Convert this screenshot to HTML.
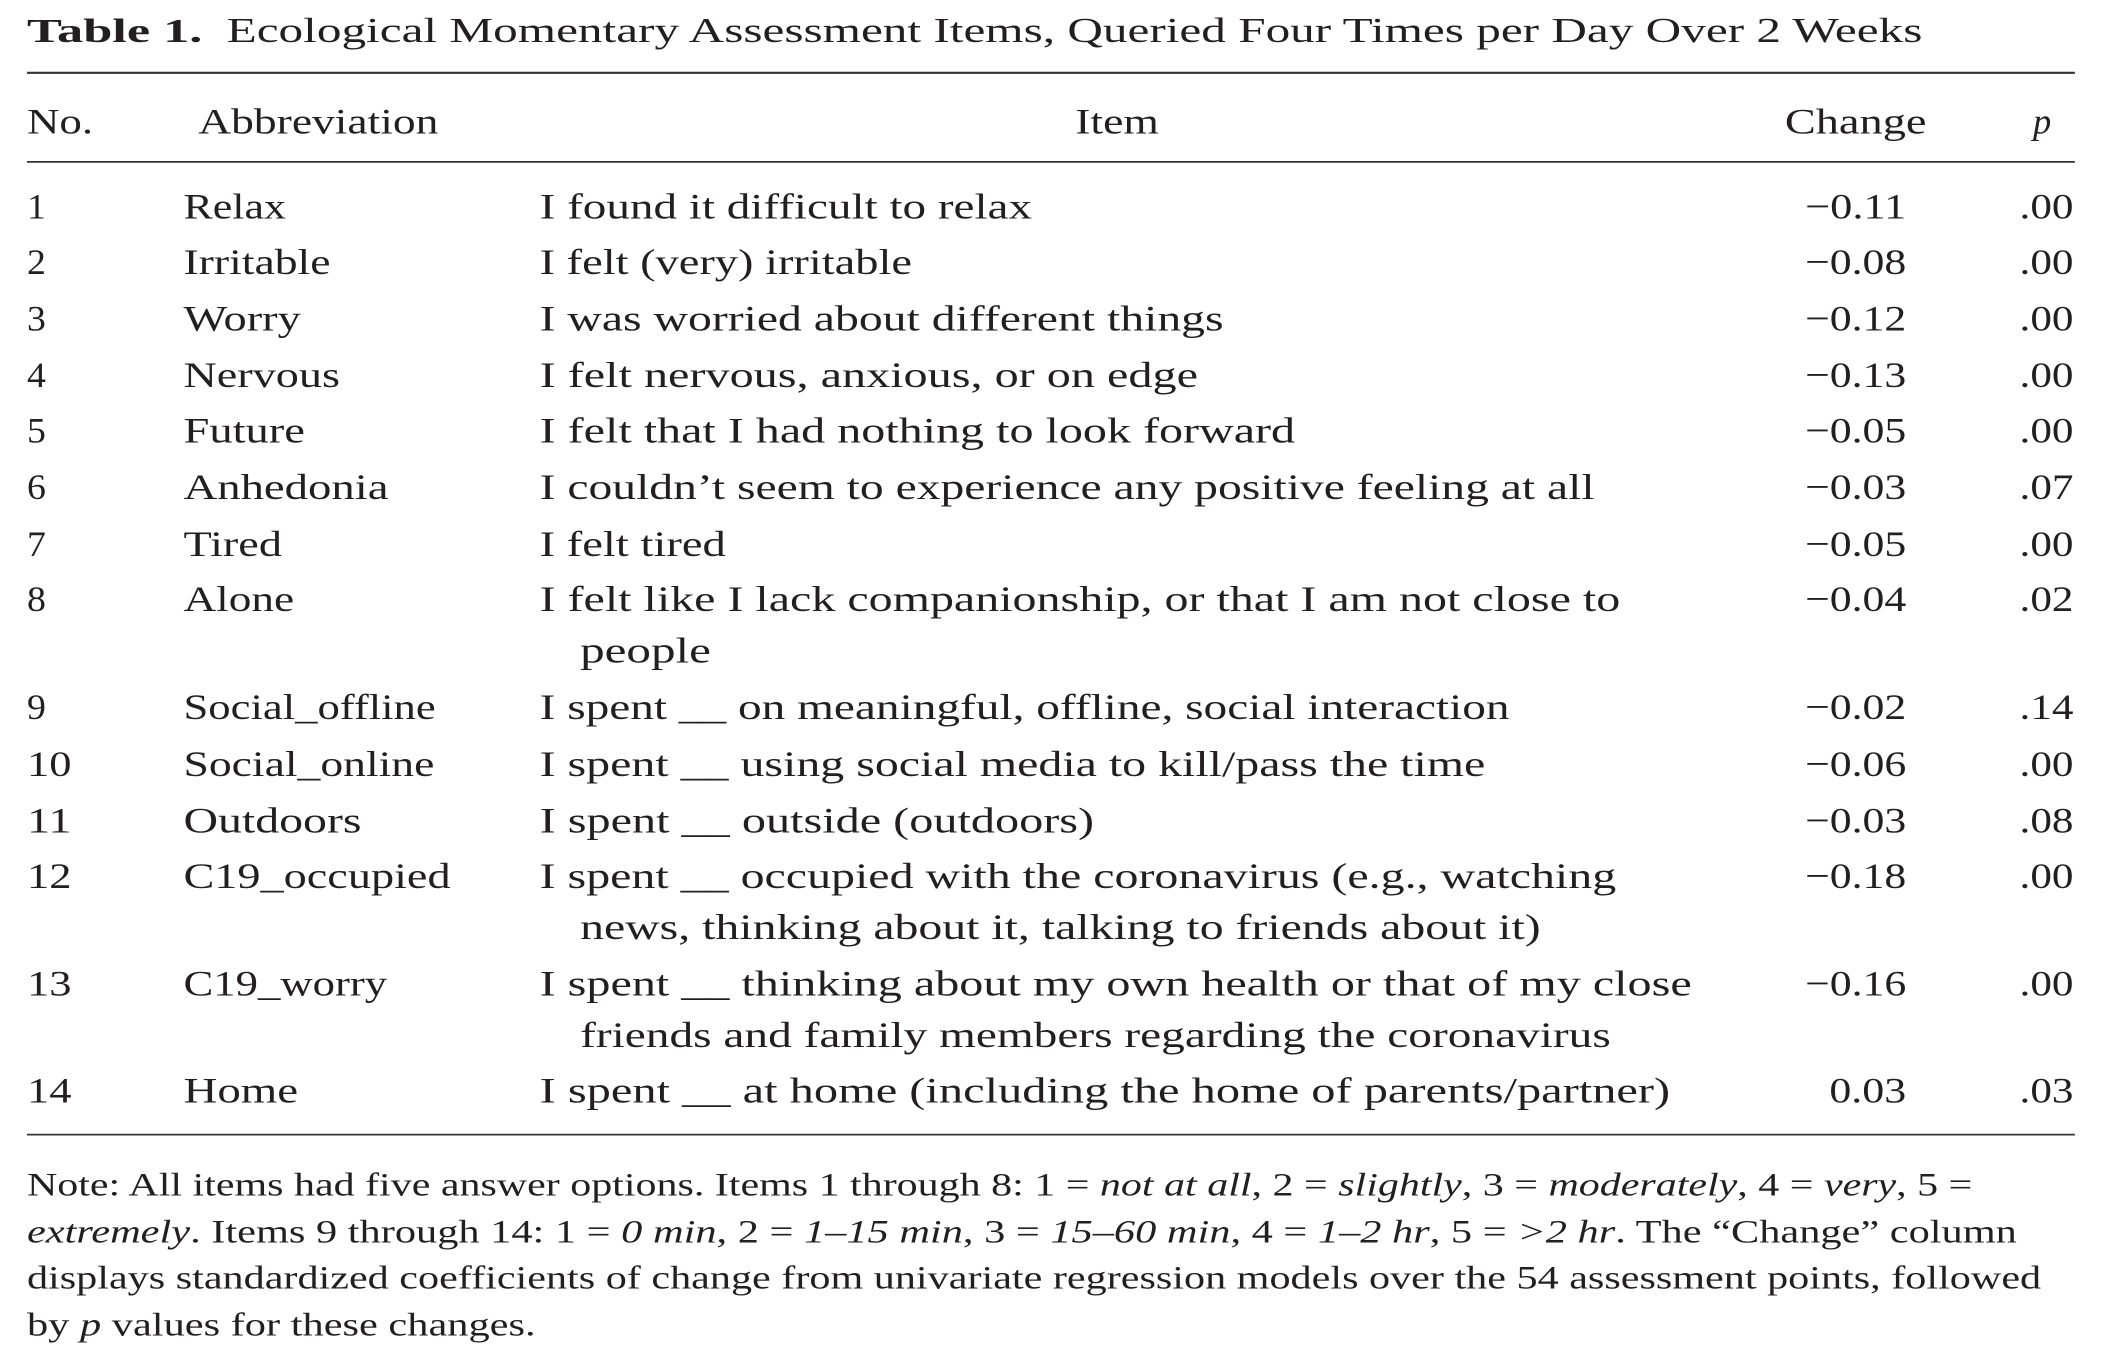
<!DOCTYPE html>
<html><head><meta charset="utf-8"><style>
html,body{margin:0;padding:0;background:#fff;}
svg{display:block;}
text{font-family:"Liberation Serif",serif;fill:#231f20;}
</style></head><body>
<svg width="2114" height="1360" viewBox="0 0 1567 1008" preserveAspectRatio="none">
<g>
<text x="20" y="31" font-size="25" font-weight="bold" textLength="130" lengthAdjust="spacingAndGlyphs">Table 1.</text>
<text x="168" y="31" font-size="26" textLength="1257" lengthAdjust="spacingAndGlyphs">Ecological Momentary Assessment Items, Queried Four Times per Day Over 2 Weeks</text>
</g>
<line x1="20" y1="54" x2="1538" y2="54" stroke="#333" stroke-width="1.6"/>
<g font-size="27">
<text x="20" y="99" font-size="27" textLength="49" lengthAdjust="spacingAndGlyphs">No.</text>
<text x="147" y="99" font-size="27" textLength="178" lengthAdjust="spacingAndGlyphs">Abbreviation</text>
<text x="797" y="99" font-size="27" textLength="62" lengthAdjust="spacingAndGlyphs">Item</text>
<text x="1323" y="99" font-size="27" textLength="105" lengthAdjust="spacingAndGlyphs">Change</text>
<text x="1507" y="99" font-size="27" font-style="italic">p</text>
</g>
<line x1="20" y1="120" x2="1538" y2="120" stroke="#333" stroke-width="1.3"/>
<g id="body"></g>
<line x1="20" y1="841" x2="1538" y2="841" stroke="#333" stroke-width="1.3"/>
<g font-size="24">
<text x="20" y="886" font-size="24" textLength="1442" lengthAdjust="spacingAndGlyphs">Note: All items had five answer options. Items 1 through 8: 1 = <tspan font-style="italic">not at all</tspan>, 2 = <tspan font-style="italic">slightly</tspan>, 3 = <tspan font-style="italic">moderately</tspan>, 4 = <tspan font-style="italic">very</tspan>, 5 =</text>
<text x="20" y="921" font-size="24" textLength="1475" lengthAdjust="spacingAndGlyphs"><tspan font-style="italic">extremely</tspan>. Items 9 through 14: 1 = <tspan font-style="italic">0 min</tspan>, 2 = <tspan font-style="italic">1–15 min</tspan>, 3 = <tspan font-style="italic">15–60 min</tspan>, 4 = <tspan font-style="italic">1–2 hr</tspan>, 5 = <tspan font-style="italic">&gt;2 hr</tspan>. The “Change” column</text>
<text x="20" y="955" font-size="24" textLength="1493" lengthAdjust="spacingAndGlyphs">displays standardized coefficients of change from univariate regression models over the 54 assessment points, followed</text>
<text x="20" y="990" font-size="24" textLength="377" lengthAdjust="spacingAndGlyphs">by <tspan font-style="italic">p</tspan> values for these changes.</text>
</g>
</svg>
<script>
const nums=["1","2","3","4","5","6","7","8","9","10","11","12","13","14"];
const abbrs=["Relax","Irritable","Worry","Nervous","Future","Anhedonia","Tired","Alone","Social_offline","Social_online","Outdoors","C19_occupied","C19_worry","Home"];
const abbrW=[76,109,87,116,90,152,73,82,187,186,132,198,151,85];
const items=["I found it difficult to relax","I felt (very) irritable","I was worried about different things","I felt nervous, anxious, or on edge","I felt that I had nothing to look forward","I couldn’t seem to experience any positive feeling at all","I felt tired","I felt like I lack companionship, or that I am not close to","I spent __ on meaningful, offline, social interaction","I spent __ using social media to kill/pass the time","I spent __ outside (outdoors)","I spent __ occupied with the coronavirus (e.g., watching","I spent __ thinking about my own health or that of my close","I spent __ at home (including the home of parents/partner)"];
const itemW=[365,276,507,488,560,782,138,801,719,701,411,798,854,838];
const conts=["","","","","","","","people","","","","news, thinking about it, talking to friends about it)","friends and family members regarding the coronavirus",""];
const contW=[0,0,0,0,0,0,0,97,0,0,0,712,764,0];
const changes=["−0.11","−0.08","−0.12","−0.13","−0.05","−0.03","−0.05","−0.04","−0.02","−0.06","−0.03","−0.18","−0.16","0.03"];
const pvals=[".00",".00",".00",".00",".00",".07",".00",".02",".14",".00",".08",".00",".00",".03"];
const baselines=[162,203,245,287,328,370,412,453,533,575,617,658,738,817];
const NS="http://www.w3.org/2000/svg";
const body=document.getElementById('body');
function t(x,y,s,w,anchor){
  const e=document.createElementNS(NS,'text');
  e.setAttribute('x',x);e.setAttribute('y',y);e.setAttribute('font-size','27');
  if(w){e.setAttribute('textLength',w);e.setAttribute('lengthAdjust','spacingAndGlyphs');}
  if(anchor)e.setAttribute('text-anchor',anchor);
  e.textContent=s;return e;
}
for(let i=0;i<nums.length;i++){
  const y=baselines[i];
  const g=document.createElementNS(NS,'g');
  
  
  let e=t(20,y,nums[i],nums[i].length>1?33:14);
  
  
  g.appendChild(e);
  e=t(136,y,abbrs[i],abbrW[i]);
  
  
  g.appendChild(e);
  e=t(400,y,items[i],itemW[i]);
  
  
  g.appendChild(e);
  if(conts[i]){
    e=t(430,y+38,conts[i],contW[i]);
    
    
    g.appendChild(e);
  }
  e=t(1413,y,changes[i],changes[i].length>4?75:57,'end');
  
  
  g.appendChild(e);
  e=t(1537,y,pvals[i],40,'end');
  
  
  g.appendChild(e);
  body.appendChild(g);
}
</script>
</body></html>
